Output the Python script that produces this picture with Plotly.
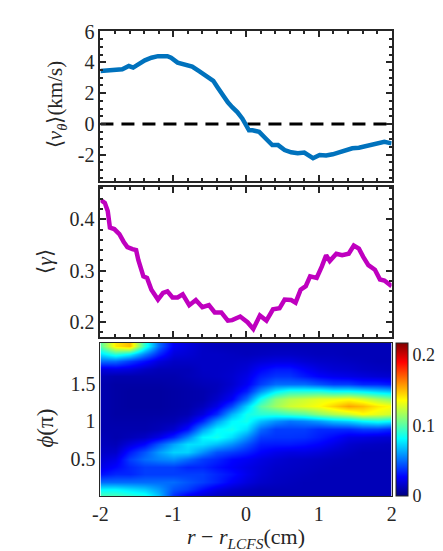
import plotly.graph_objects as go

# ---------------- data ----------------
r_v = [-2.0, -1.83, -1.7, -1.61, -1.55, -1.48, -1.39, -1.3, -1.21, -1.08, -1.03, -0.94, -0.85,
       -0.74, -0.65, -0.54, -0.45, -0.39, -0.32, -0.25, -0.19, -0.12, -0.05, 0.0, 0.04, 0.09,
       0.18, 0.27, 0.36, 0.44, 0.53, 0.62, 0.71, 0.8, 0.88, 0.92, 1.01, 1.1, 1.19, 1.28, 1.37,
       1.46, 1.55, 1.64, 1.72, 1.79, 1.9, 2.0]
v_theta = [3.44, 3.49, 3.55, 3.76, 3.66, 3.87, 4.13, 4.3, 4.4, 4.4, 4.3, 3.98, 3.87,
           3.72, 3.44, 3.12, 2.8, 2.37, 1.84, 1.41, 1.09, 0.77, 0.34, -0.09, -0.41, -0.41,
           -0.51, -0.94, -1.37, -1.37, -1.69, -1.84, -1.9, -1.86, -2.12, -2.22, -2.01, -2.05, -1.97, -1.84, -1.69,
           -1.58, -1.54, -1.43, -1.37, -1.22, -1.16, -1.26]

zero_x = [-2, 2]
zero_y = [0, 0]

r_g = [-2.0, -1.94, -1.9, -1.87, -1.81, -1.74, -1.68, -1.63, -1.56, -1.51, -1.48, -1.41, -1.36,
       -1.3, -1.21, -1.14, -1.08, -1.01, -0.94, -0.87, -0.78, -0.69, -0.6, -0.51, -0.43, -0.34,
       -0.25, -0.19, -0.08, 0.02, 0.1, 0.19, 0.28, 0.37, 0.46, 0.53, 0.62, 0.68, 0.75, 0.82,
       0.88, 0.97, 1.04, 1.1, 1.15, 1.24, 1.32, 1.41, 1.48, 1.55, 1.61, 1.68, 1.77, 1.84, 1.9, 2.0]
gamma = [0.438, 0.432, 0.416, 0.384, 0.381, 0.371, 0.356, 0.346, 0.342, 0.34, 0.321, 0.289, 0.286,
         0.263, 0.244, 0.257, 0.26, 0.248, 0.248, 0.254, 0.233, 0.243, 0.229, 0.233, 0.219, 0.219,
         0.203, 0.204, 0.211, 0.2, 0.187, 0.213, 0.203, 0.225, 0.227, 0.244, 0.243, 0.238, 0.263, 0.27,
         0.289, 0.286, 0.308, 0.33, 0.319, 0.333, 0.33, 0.333, 0.349, 0.343, 0.327, 0.311, 0.302, 0.283, 0.281, 0.27]

r_map = [-2.0, -1.8, -1.6, -1.4, -1.2, -1.0, -0.8, -0.6, -0.4, -0.2, 0.0,
         0.2, 0.4, 0.6, 0.8, 1.0, 1.2, 1.4, 1.6, 1.8, 2.0]
phi_map = [0.0, 0.1, 0.2, 0.3, 0.4, 0.5, 0.6, 0.7, 0.8, 0.9, 1.0,
           1.1, 1.2, 1.3, 1.4, 1.5, 1.6, 1.7, 1.8, 1.9, 2.0]
# columns: one list per r value, from phi=0 to phi=2
cols = [
    [0.10, 0.08, 0.05, 0.03, 0.022, 0.018, 0.015, 0.013, 0.012, 0.01, 0.01, 0.01, 0.01, 0.01, 0.01, 0.01, 0.012, 0.02, 0.05, 0.075, 0.10],
    [0.10, 0.08, 0.05, 0.035, 0.028, 0.022, 0.016, 0.012, 0.01, 0.01, 0.009, 0.008, 0.008, 0.008, 0.008, 0.008, 0.01, 0.022, 0.05, 0.09, 0.14],
    [0.095, 0.075, 0.05, 0.035, 0.035, 0.04, 0.032, 0.02, 0.012, 0.01, 0.009, 0.008, 0.007, 0.007, 0.007, 0.008, 0.01, 0.02, 0.04, 0.08, 0.15],
    [0.09, 0.07, 0.05, 0.04, 0.04, 0.05, 0.045, 0.028, 0.015, 0.01, 0.009, 0.008, 0.007, 0.007, 0.007, 0.008, 0.01, 0.015, 0.03, 0.055, 0.09],
    [0.07, 0.06, 0.05, 0.04, 0.04, 0.055, 0.06, 0.045, 0.022, 0.012, 0.01, 0.008, 0.007, 0.007, 0.007, 0.008, 0.01, 0.012, 0.02, 0.035, 0.05],
    [0.035, 0.045, 0.05, 0.04, 0.04, 0.058, 0.072, 0.062, 0.035, 0.017, 0.011, 0.009, 0.008, 0.008, 0.008, 0.009, 0.01, 0.012, 0.015, 0.02, 0.025],
    [0.022, 0.04, 0.045, 0.04, 0.035, 0.05, 0.072, 0.075, 0.055, 0.03, 0.017, 0.011, 0.009, 0.009, 0.009, 0.01, 0.012, 0.012, 0.015, 0.018, 0.02],
    [0.016, 0.03, 0.04, 0.04, 0.035, 0.04, 0.058, 0.075, 0.08, 0.06, 0.035, 0.02, 0.013, 0.01, 0.01, 0.012, 0.014, 0.015, 0.015, 0.015, 0.015],
    [0.013, 0.022, 0.034, 0.035, 0.03, 0.035, 0.045, 0.068, 0.085, 0.08, 0.06, 0.036, 0.022, 0.016, 0.013, 0.013, 0.015, 0.015, 0.015, 0.015, 0.013],
    [0.012, 0.017, 0.026, 0.03, 0.026, 0.028, 0.04, 0.058, 0.075, 0.085, 0.08, 0.065, 0.042, 0.026, 0.02, 0.017, 0.017, 0.016, 0.015, 0.014, 0.012],
    [0.012, 0.014, 0.02, 0.023, 0.022, 0.025, 0.034, 0.045, 0.058, 0.075, 0.085, 0.085, 0.072, 0.05, 0.033, 0.025, 0.022, 0.019, 0.016, 0.013, 0.012],
    [0.012, 0.012, 0.016, 0.018, 0.019, 0.021, 0.027, 0.033, 0.04, 0.05, 0.068, 0.09, 0.1, 0.085, 0.058, 0.04, 0.033, 0.027, 0.019, 0.014, 0.012],
    [0.012, 0.012, 0.014, 0.015, 0.016, 0.018, 0.023, 0.032, 0.038, 0.04, 0.058, 0.09, 0.115, 0.11, 0.078, 0.05, 0.038, 0.032, 0.021, 0.015, 0.012],
    [0.012, 0.012, 0.013, 0.014, 0.015, 0.016, 0.021, 0.032, 0.038, 0.04, 0.052, 0.095, 0.125, 0.12, 0.088, 0.05, 0.038, 0.032, 0.021, 0.015, 0.012],
    [0.012, 0.012, 0.012, 0.013, 0.014, 0.015, 0.021, 0.03, 0.037, 0.04, 0.055, 0.1, 0.13, 0.125, 0.088, 0.05, 0.032, 0.026, 0.018, 0.014, 0.012],
    [0.012, 0.012, 0.012, 0.012, 0.013, 0.014, 0.019, 0.027, 0.033, 0.036, 0.06, 0.11, 0.135, 0.13, 0.088, 0.045, 0.027, 0.021, 0.016, 0.013, 0.012],
    [0.012, 0.012, 0.012, 0.012, 0.012, 0.013, 0.016, 0.022, 0.028, 0.036, 0.068, 0.118, 0.145, 0.132, 0.082, 0.04, 0.024, 0.018, 0.015, 0.013, 0.012],
    [0.012, 0.012, 0.012, 0.012, 0.012, 0.012, 0.014, 0.017, 0.022, 0.036, 0.072, 0.125, 0.155, 0.135, 0.082, 0.04, 0.022, 0.017, 0.014, 0.012, 0.012],
    [0.012, 0.012, 0.012, 0.012, 0.012, 0.012, 0.012, 0.015, 0.021, 0.04, 0.08, 0.135, 0.15, 0.128, 0.078, 0.035, 0.02, 0.015, 0.013, 0.012, 0.012],
    [0.012, 0.012, 0.012, 0.012, 0.012, 0.012, 0.012, 0.014, 0.019, 0.04, 0.085, 0.13, 0.14, 0.118, 0.072, 0.035, 0.018, 0.014, 0.012, 0.012, 0.012],
    [0.012, 0.012, 0.012, 0.012, 0.012, 0.012, 0.012, 0.013, 0.018, 0.035, 0.08, 0.125, 0.135, 0.11, 0.068, 0.032, 0.017, 0.013, 0.012, 0.012, 0.012],
]
z_map = [[cols[j][i] for j in range(len(r_map))] for i in range(len(phi_map))]

x_ticks = [-2, -1, 0, 1, 2]
x_ticktext = ["-2", "-1", "0", "1", "2"]
v_ticks = [-2, 0, 2, 4, 6]
v_ticktext = ["-2", "0", "2", "4", "6"]
g_ticks = [0.2, 0.3, 0.4]
g_ticktext = ["0.2", "0.3", "0.4"]
p_ticks = [0.5, 1, 1.5]
p_ticktext = ["0.5", "1", "1.5"]
c_ticks = [0, 0.1, 0.2]
c_ticktext = ["0", "0.1", "0.2"]

# ---------------- figure ----------------
W, H = 443, 551
FONT = "Liberation Serif"
TXT = "#262626"

def px_x(a, b):
    return [a / W, b / W]

def px_y(top, bottom):
    return [1 - bottom / H, 1 - top / H]

jet = [[0.0, "rgb(0,0,128)"], [0.125, "rgb(0,0,255)"], [0.375, "rgb(0,255,255)"],
       [0.625, "rgb(255,255,0)"], [0.875, "rgb(255,0,0)"], [1.0, "rgb(128,0,0)"]]

fig = go.Figure()
fig.add_trace(go.Scatter(x=zero_x, y=zero_y, mode="lines",
                         line=dict(color="black", width=3, dash="13px,8px"),
                         xaxis="x", yaxis="y", showlegend=False, hoverinfo="skip"))
fig.add_trace(go.Scatter(x=r_v, y=v_theta, mode="lines",
                         line=dict(color="#0072BD", width=4.5),
                         xaxis="x", yaxis="y", showlegend=False))
fig.add_trace(go.Scatter(x=r_g, y=gamma, mode="lines",
                         line=dict(color="#BF00BF", width=4.5),
                         xaxis="x2", yaxis="y2", showlegend=False))
fig.add_trace(go.Heatmap(x=r_map, y=phi_map, z=z_map, zmin=0, zmax=0.217,
                         colorscale=jet, zsmooth="best",
                         xaxis="x3", yaxis="y3",
                         colorbar=dict(x=392 / W, xanchor="left", y=1 - 487 / H, yanchor="bottom",
                                       len=156 / H, lenmode="fraction", thickness=12,
                                       outlinewidth=1, outlinecolor="#262626",
                                       tickvals=c_ticks, ticktext=c_ticktext, ticks="",
                                       tickfont=dict(family=FONT, size=18, color=TXT),
                                       xpad=0, ypad=0)))

frame = dict(showline=True, linecolor="#262626", linewidth=2, mirror="ticks",
             showgrid=False, zeroline=False, ticks="inside", ticklen=6, tickwidth=1.5,
             tickcolor="#262626", tickfont=dict(family=FONT, size=20, color=TXT))

minor_x = dict(dtick=0.2, ticks="inside", ticklen=3, tickwidth=1.5, tickcolor="#262626", showgrid=False)

xd = px_x(87, 387)
fig.update_layout(
    width=W, height=H, margin=dict(l=0, r=0, t=0, b=0),
    paper_bgcolor="white", plot_bgcolor="white",
    font=dict(family=FONT, color=TXT),
    xaxis=dict(frame, domain=xd, range=[-2, 2], tickvals=x_ticks, showticklabels=False,
               minor=minor_x, anchor="y"),
    yaxis=dict(frame, domain=px_y(13, 166), range=[-3.7, 6.05], tickvals=v_ticks, ticktext=v_ticktext,
               minor=dict(dtick=0.5, ticks="inside", ticklen=3, tickwidth=1.5, tickcolor="#262626"),
               anchor="x"),
    xaxis2=dict(frame, domain=xd, range=[-2, 2], tickvals=x_ticks, showticklabels=False,
                minor=minor_x, anchor="y2"),
    yaxis2=dict(frame, domain=px_y(172, 325), range=[0.171, 0.463], tickvals=g_ticks, ticktext=g_ticktext,
                minor=dict(dtick=0.02, ticks="inside", ticklen=3, tickwidth=1.5, tickcolor="#262626"),
                anchor="x2"),
    xaxis3=dict(showline=True, linecolor="#262626", linewidth=1, mirror=True, showgrid=False,
                zeroline=False, ticks="", domain=xd, range=[-2, 2], tickvals=x_ticks,
                ticktext=x_ticktext, tickfont=dict(family=FONT, size=20, color=TXT), anchor="y3"),
    yaxis3=dict(showline=True, linecolor="#262626", linewidth=1, mirror=True, showgrid=False,
                zeroline=False, ticks="", domain=px_y(331, 487), range=[0.01, 2.04], tickvals=p_ticks,
                ticktext=p_ticktext, tickfont=dict(family=FONT, size=20, color=TXT), anchor="x3"),
)

ann_font = dict(family=FONT, size=21, color=TXT)
fig.add_annotation(text="⟨<i>v</i><sub><i>θ</i></sub>⟩(km/s)", x=42 / W, y=1 - 88 / H, xref="paper", yref="paper",
                   textangle=-90, showarrow=False, xanchor="center", yanchor="middle", font=ann_font)
fig.add_annotation(text="⟨<i>γ</i>⟩", x=30 / W, y=1 - 248 / H, xref="paper", yref="paper",
                   textangle=-90, showarrow=False, xanchor="center", yanchor="middle", font=ann_font)
fig.add_annotation(text="<i>ϕ</i>(π)", x=30 / W, y=1 - 418 / H, xref="paper", yref="paper",
                   textangle=-90, showarrow=False, xanchor="center", yanchor="middle",
                   font=dict(family=FONT, size=23, color=TXT))
fig.add_annotation(text="<i>r</i> − <i>r</i><sub><i>LCFS</i></sub>(cm)", x=237 / W, y=1 - 530 / H,
                   xref="paper", yref="paper", showarrow=False, xanchor="center", yanchor="middle",
                   font=dict(family=FONT, size=22, color=TXT))

fig.write_html("out.html")
